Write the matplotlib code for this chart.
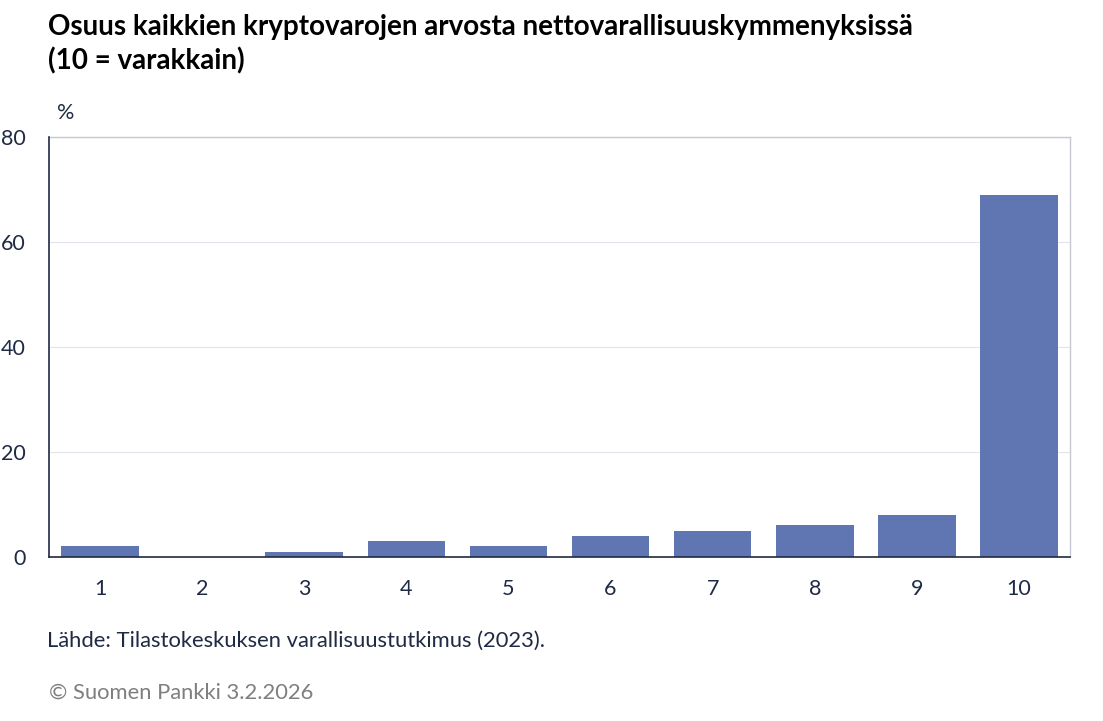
import matplotlib.pyplot as plt

plt.rcParams['font.family'] = ['Lato', 'DejaVu Sans']

deciles = ['1', '2', '3', '4', '5', '6', '7', '8', '9', '10']
share = [2, 0, 1, 3, 2, 4, 5, 6, 8, 69]
yticks = [0, 20, 40, 60, 80]

text_col = '#1f2a44'
bar_col = '#5f76b3'

fig = plt.figure(figsize=(11.03, 7.21), dpi=100)
ax = fig.add_axes([0.0444, 0.2275, 0.9257, 0.5825])

ax.bar(range(len(deciles)), share, width=0.76, color=bar_col, zorder=3)
ax.set_xlim(-0.5, len(deciles) - 0.5)
ax.set_ylim(0, 80)
ax.set_xticks(range(len(deciles)))
ax.set_xticklabels(deciles)
ax.set_yticks(yticks)
ax.tick_params(axis='both', length=0, labelsize=15.5, colors=text_col)
ax.tick_params(axis='x', pad=16)
ax.tick_params(axis='y', pad=17)
ax.grid(axis='y', color='#e3e5ec', linewidth=0.8, zorder=0)

for s in ['top', 'right']:
    ax.spines[s].set_color('#c5c8d3')
    ax.spines[s].set_linewidth(1)
for s in ['left', 'bottom']:
    ax.spines[s].set_color(text_col)
    ax.spines[s].set_linewidth(1.2)
    ax.spines[s].set_zorder(4)

fig.text(48 / 1103, 1 - 27 / 721, 'Osuus kaikkien kryptovarojen arvosta nettovarallisuuskymmenyksissä',
         fontsize=20, fontweight='bold', color='black', va='center', ha='left')
fig.text(48 / 1103, 1 - 61 / 721, '(10 = varakkain)',
         fontsize=20, fontweight='bold', color='black', va='center', ha='left')
fig.text(57 / 1103, 1 - 113 / 721, '%', fontsize=15.5, color=text_col, va='center', ha='left')
fig.text(47 / 1103, 1 - 641 / 721, 'Lähde: Tilastokeskuksen varallisuustutkimus (2023).',
         fontsize=15.8, color=text_col, va='center', ha='left')
fig.text(49 / 1103, 1 - 693 / 721, '© Suomen Pankki 3.2.2026',
         fontsize=15.8, color='#7f7f7f', va='center', ha='left')

fig.savefig('out.png', dpi=100)
